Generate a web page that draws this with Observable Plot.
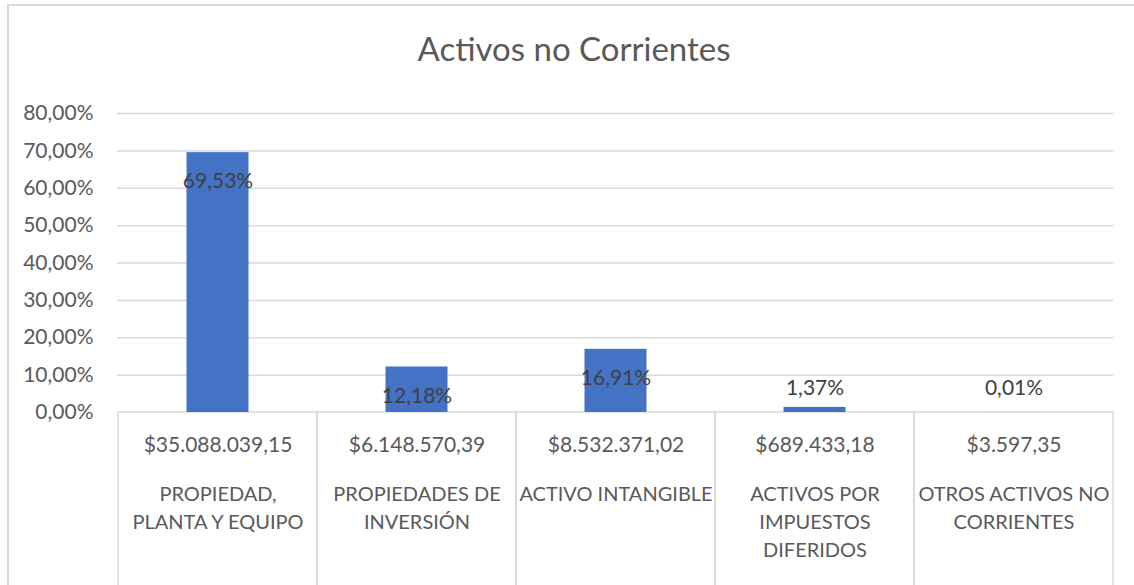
<!DOCTYPE html>
<html><head><meta charset="utf-8">
<script src="https://cdn.jsdelivr.net/npm/d3@7"></script>
<script src="https://cdn.jsdelivr.net/npm/@observablehq/plot@0.6"></script>
<style>
body{margin:0;background:#fff;}
#wrap{position:relative;width:1134px;height:585px;overflow:hidden;font-family:Lato,"Open Sans",sans-serif;}
#frame{position:absolute;left:7px;top:4px;width:1200px;height:700px;border-left:2px solid #d9d9d9;border-top:2px solid #d9d9d9;}
#title{position:absolute;left:8px;width:1132px;top:28px;text-align:center;font-size:33px;line-height:40px;color:#595959;}
#chart{position:absolute;left:0;top:0;}
</style></head>
<body><div id="wrap"><div id="frame"></div><div id="title">Activos no Corrientes</div><div id="chart"></div></div>
<script>
const categories = ["PROPIEDAD,\nPLANTA Y EQUIPO", "PROPIEDADES DE\nINVERSIÓN", "ACTIVO INTANGIBLE", "ACTIVOS POR\nIMPUESTOS\nDIFERIDOS", "OTROS ACTIVOS NO\nCORRIENTES"];
const amounts = ["$35.088.039,15", "$6.148.570,39", "$8.532.371,02", "$689.433,18", "$3.597,35"];
const shares = [69.53, 12.18, 16.91, 1.37, 0.01];
const yTicks = [0, 10, 20, 30, 40, 50, 60, 70, 80];

const data = categories.map((c, i) => ({cat: c, amount: amounts[i], v: shares[i]}));
const pct = v => v.toFixed(2).replace(".", ",") + "%";
const grid = "#d9d9d9";

const chart = Plot.plot({
  width: 1134,
  height: 585,
  marginTop: 113,
  marginBottom: 173,
  marginLeft: 117,
  marginRight: 21,
  style: {fontFamily: "Lato, 'Open Sans', sans-serif", fontSize: "20px", background: "transparent", overflow: "visible"},
  x: {domain: categories, padding: 0, axis: null},
  y: {domain: [0, 80], ticks: yTicks, tickFormat: pct, label: null},
  marks: [
    Plot.ruleY(yTicks.filter(t => t > 0), {stroke: grid, strokeWidth: 1.5}),
    Plot.axisY({ticks: yTicks, tickFormat: pct, tickSize: 0, tickPadding: 24, fill: "#595959", fontSize: 21, label: null}),
    Plot.barY(data, {x: "cat", y1: 0, y2: -50, fill: "none", stroke: grid, strokeWidth: 1.5}),
    Plot.barY(data, {x: "cat", y: "v", fill: "#4472C4", insetLeft: 68.5, insetRight: 68.5}),
    Plot.text(data.filter(d => d.v > 5), {x: "cat", y: "v", text: d => pct(d.v), dy: 29, fill: "#404040", fontSize: 21}),
    Plot.text(data.filter(d => d.v <= 5), {x: "cat", y: 0, text: d => pct(d.v), dy: -24, fill: "#404040", fontSize: 21}),
    Plot.text(data, {x: "cat", y: 0, text: "amount", dy: 33, fill: "#595959", fontSize: 21}),
    Plot.text(data, {x: "cat", y: 0, text: "cat", dy: 69, lineAnchor: "top", lineHeight: 1.4, fill: "#595959", fontSize: 20})
  ]
});
document.getElementById("chart").appendChild(chart);
</script>
</body></html>
